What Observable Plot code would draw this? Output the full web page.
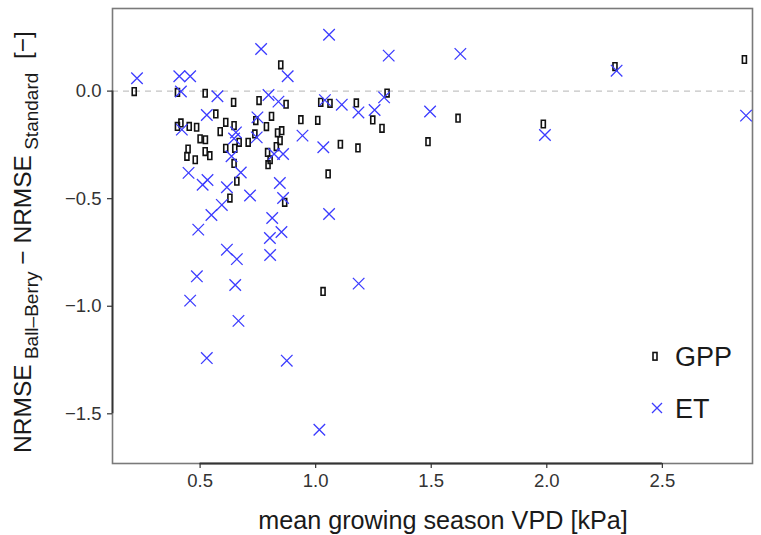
<!DOCTYPE html>
<html>
<head>
<meta charset="utf-8">
<script src="https://cdn.jsdelivr.net/npm/d3@7"></script>
<script src="https://cdn.jsdelivr.net/npm/@observablehq/plot@0.6"></script>
<style>
  html, body { margin: 0; padding: 0; background: #fff; }
  svg { display: block; font-family: "Liberation Sans", Arial, sans-serif; }
</style>
</head>
<body>
<div id="chart"></div>
<script>
// GPP points: mean growing season VPD [kPa] and NRMSE difference
const gppX = [0.215,0.402,0.522,0.849,0.645,0.755,0.872,1.022,1.062,0.568,0.809,0.936,1.009,0.741,0.611,0.417,0.402,0.453,0.485,0.647,0.587,0.787,0.853,0.835,0.737,0.500,0.523,0.669,0.708,0.846,0.830,0.611,0.650,0.448,0.522,0.443,0.542,0.479,0.792,0.803,0.794,0.647,1.054,0.659,0.629,0.866,1.032,1.176,1.309,1.247,1.287,1.107,1.183,1.616,1.486,2.295,2.855,1.985];
const gppY = [-0.002,-0.006,-0.010,0.122,-0.052,-0.044,-0.061,-0.052,-0.057,-0.106,-0.117,-0.133,-0.136,-0.137,-0.145,-0.148,-0.164,-0.164,-0.168,-0.160,-0.188,-0.165,-0.184,-0.194,-0.199,-0.222,-0.226,-0.238,-0.238,-0.230,-0.258,-0.266,-0.266,-0.269,-0.281,-0.303,-0.300,-0.319,-0.285,-0.319,-0.342,-0.336,-0.385,-0.419,-0.497,-0.517,-0.931,-0.055,-0.009,-0.134,-0.173,-0.247,-0.264,-0.126,-0.235,0.114,0.147,-0.153];
// ET points
const etX = [0.227,0.410,0.457,0.764,0.879,1.058,0.417,0.575,0.796,0.839,0.529,0.748,0.421,0.655,0.647,0.745,0.943,1.033,0.636,0.820,0.859,1.040,0.450,0.676,0.511,0.532,0.616,0.845,0.716,0.859,0.594,0.549,0.812,0.492,0.852,0.802,0.616,0.659,0.803,0.486,0.652,0.457,0.666,1.058,0.529,0.875,1.016,1.316,1.626,1.296,1.113,1.185,1.255,1.495,2.302,2.862,1.992,1.186];
const etY = [0.060,0.069,0.069,0.196,0.069,0.262,-0.002,-0.024,-0.018,-0.049,-0.111,-0.122,-0.179,-0.192,-0.220,-0.215,-0.207,-0.261,-0.303,-0.292,-0.292,-0.042,-0.380,-0.378,-0.435,-0.413,-0.447,-0.427,-0.485,-0.497,-0.529,-0.576,-0.590,-0.644,-0.655,-0.683,-0.737,-0.781,-0.762,-0.861,-0.901,-0.974,-1.068,-0.571,-1.241,-1.253,-1.574,0.165,0.173,-0.029,-0.063,-0.099,-0.088,-0.095,0.095,-0.114,-0.204,-0.895];

const xTicks = [0.5, 1.0, 1.5, 2.0, 2.5];
const yTicks = [0.0, -0.5, -1.0, -1.5];
const xDomain = [0.121, 2.89];
const yDomain = [-1.731, 0.384];
const seriesNames = ["GPP", "ET"];

const gpp = gppX.map((x, i) => ({x, y: gppY[i]}));
const et = etX.map((x, i) => ({x, y: etY[i]}));

const blue = "#3c3cff";
const rectSymbol = {
  draw(ctx) {
    const w = 2, h = 3.8;
    ctx.moveTo(-w, -h); ctx.lineTo(w, -h); ctx.lineTo(w, h); ctx.lineTo(-w, h); ctx.closePath();
  }
};

const fmt = d3.format(".1f");

const plot = Plot.plot({
  width: 761,
  height: 535,
  marginLeft: 112,
  marginRight: 9,
  marginTop: 8,
  marginBottom: 72,
  style: {fontFamily: "Liberation Sans, Arial, sans-serif", background: "#fff"},
  x: {domain: xDomain},
  y: {domain: yDomain},
  marks: [
    Plot.ruleY([0], {stroke: "#c4c4c4", strokeWidth: 1.4, strokeDasharray: "6,5"}),
    Plot.frame({stroke: "#7a7a7a", strokeWidth: 1.6}),
    Plot.ruleY([yDomain[0]], {x1: xTicks[0], x2: xTicks[xTicks.length - 1], stroke: "#333", strokeWidth: 1.8}),
    Plot.ruleX([xDomain[0]], {y1: yTicks[yTicks.length - 1], y2: yTicks[0], stroke: "#333", strokeWidth: 1.8}),
    Plot.axisX({ticks: xTicks, tickFormat: fmt, tickSize: 5, tickPadding: 5, fontSize: 18.5, color: "#333", label: null, strokeWidth: 1.2}),
    Plot.axisY({ticks: yTicks, tickFormat: fmt, tickSize: 5, tickPadding: 6, fontSize: 18.5, color: "#333", label: null, strokeWidth: 1.2}),
    Plot.dot(gpp, {x: "x", y: "y", symbol: rectSymbol, r: 4, stroke: "#111", strokeWidth: 1.6, fill: "none"}),
    Plot.dot(et, {x: "x", y: "y", symbol: "times", r: 5.3, stroke: blue, strokeWidth: 1.3})
  ]
});

const svg = d3.select(plot);
const ink = "#1a1a1a";

// x-axis title
svg.append("text")
  .attr("x", 443).attr("y", 529)
  .attr("text-anchor", "middle")
  .attr("font-size", 25.2)
  .attr("fill", ink)
  .text("mean growing season VPD [kPa]");

// y-axis title with subscripts
const yl = svg.append("text")
  .attr("transform", "translate(31,242) rotate(-90)")
  .attr("text-anchor", "middle")
  .attr("font-size", 24.5)
  .attr("fill", ink);
yl.append("tspan").text("NRMSE");
yl.append("tspan").attr("font-size", 19).attr("dy", 7).text(" Ball–Berry");
yl.append("tspan").attr("dy", -7).text(" − NRMSE");
yl.append("tspan").attr("font-size", 19).attr("dy", 7).text(" Standard");
yl.append("tspan").attr("dy", -7).text("  [−]");

// legend
const lg = svg.append("g").attr("text-anchor", "start");
lg.append("rect").attr("x", 653).attr("y", 352.5).attr("width", 4).attr("height", 7.6)
  .attr("fill", "none").attr("stroke", "#111").attr("stroke-width", 1.6);
lg.append("text").attr("x", 675).attr("y", 366).attr("font-size", 27).attr("fill", ink).text(seriesNames[0]);
lg.append("path").attr("d", "M652,403L662,413M652,413L662,403")
  .attr("stroke", blue).attr("stroke-width", 1.3).attr("fill", "none");
lg.append("text").attr("x", 675).attr("y", 418).attr("font-size", 27).attr("fill", ink).text(seriesNames[1]);

document.getElementById("chart").appendChild(plot);
</script>
</body>
</html>
